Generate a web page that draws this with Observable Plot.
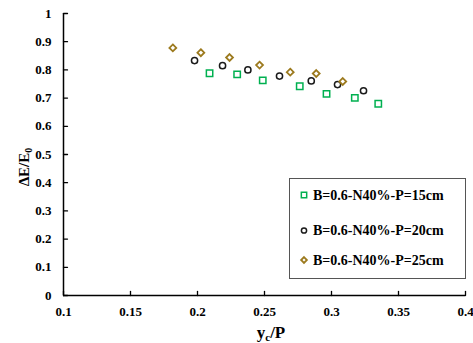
<!DOCTYPE html>
<html><head><meta charset="utf-8">
<script src="https://cdn.jsdelivr.net/npm/d3@7"></script>
<script src="https://cdn.jsdelivr.net/npm/@observablehq/plot@0.6"></script>
<style>body{margin:0;background:#fff}</style>
</head><body><div id="chart"></div>
<script>
const xTicks = [0.1, 0.15, 0.2, 0.25, 0.3, 0.35, 0.4];
const yTicks = [0, 0.1, 0.2, 0.3, 0.4, 0.5, 0.6, 0.7, 0.8, 0.9, 1];
const seriesNames = ["B=0.6-N40%-P=15cm", "B=0.6-N40%-P=20cm", "B=0.6-N40%-P=25cm"];
const p15x = [0.209, 0.2296, 0.2487, 0.2763, 0.2963, 0.3174, 0.3349];
const p15y = [0.788, 0.784, 0.763, 0.742, 0.715, 0.701, 0.680];
const p20x = [0.1978, 0.2187, 0.2376, 0.2612, 0.2849, 0.3045, 0.3239];
const p20y = [0.833, 0.815, 0.800, 0.778, 0.761, 0.748, 0.726];
const p25x = [0.1816, 0.2025, 0.2239, 0.2463, 0.2692, 0.2886, 0.3084];
const p25y = [0.878, 0.861, 0.844, 0.817, 0.792, 0.787, 0.759];

const colors = ["#00b050", "#1a1a1a", "#9c7a1e"];
const toRows = (xs, ys) => xs.map((x, i) => ({x, y: ys[i]}));
const d15 = toRows(p15x, p15y), d20 = toRows(p20x, p20y), d25 = toRows(p25x, p25y);

const tickShape = {draw(ctx, l) { ctx.moveTo(0, 0); ctx.lineTo(0, -l); }};
const tickShapeR = {draw(ctx, l) { ctx.moveTo(0, 0); ctx.lineTo(l, 0); }};

const chart = Plot.plot({
  width: 473, height: 343,
  marginLeft: 63, marginRight: 8, marginTop: 13, marginBottom: 48,
  x: {domain: [0.1, 0.4]},
  y: {domain: [0, 1]},
  style: {fontFamily: "'Liberation Serif', 'Times New Roman', serif", fontWeight: "bold", fontSize: "13px", background: "white", color: "#000"},
  marks: [
    Plot.axisX({ticks: xTicks, tickSize: 0, tickPadding: 11, label: null, tickFormat: d => String(+d.toFixed(2))}),
    Plot.axisY({ticks: yTicks, tickSize: 0, tickPadding: 12, label: null, tickFormat: d => String(+d.toFixed(1))}),
    Plot.vector(xTicks, {x: d => d, y: 0, length: 4, anchor: "start", shape: tickShape, stroke: "#000", strokeWidth: 1.3}),
    Plot.vector(yTicks, {x: 0.1, y: d => d, length: 4, anchor: "start", shape: tickShapeR, stroke: "#000", strokeWidth: 1.3}),
    Plot.ruleY([0], {stroke: "#000", strokeWidth: 1.5}),
    Plot.ruleX([0.1], {stroke: "#000", strokeWidth: 1.5}),
    Plot.dot(d15, {x: "x", y: "y", symbol: "square", r: 3.6, stroke: colors[0], strokeWidth: 1.5, fill: "none"}),
    Plot.dot(d20, {x: "x", y: "y", symbol: "circle", r: 3.1, stroke: colors[1], strokeWidth: 1.5, fill: "none"}),
    Plot.dot(d25, {x: "x", y: "y", symbol: "diamond2", r: 3.1, stroke: colors[2], strokeWidth: 1.8, fill: "none"})
  ]
});
document.getElementById("chart").appendChild(chart);

const svg = d3.select(chart);
const font = "'Liberation Serif', 'Times New Roman', serif";
// axis titles
const xl = svg.append("text").attr("x", 271).attr("y", 338).attr("text-anchor", "middle")
  .attr("font-family", font).attr("font-weight", "bold").attr("font-size", 17);
xl.append("tspan").text("y");
xl.append("tspan").attr("font-size", 11).attr("dy", 3).text("c");
xl.append("tspan").attr("dy", -3).text("/P");
const yl = svg.append("text").attr("transform", "translate(29,167) rotate(-90)").attr("text-anchor", "middle")
  .attr("font-family", font).attr("font-weight", "bold").attr("font-size", 15);
yl.append("tspan").text("ΔE/E");
yl.append("tspan").attr("font-size", 10).attr("dy", 3).text("0");

// legend
const lg = svg.append("g").attr("text-anchor", "start");
lg.append("rect").attr("x", 289.5).attr("y", 178.5).attr("width", 176).attr("height", 100)
  .attr("fill", "white").attr("stroke", "#555").attr("stroke-width", 1);
const ly = [195, 230.5, 260];
const syms = [d3.symbolSquare, d3.symbolCircle, d3.symbolDiamond2];
const rs = [3.6, 3.1, 3.1];
seriesNames.forEach((name, i) => {
  lg.append("path").attr("d", d3.symbol(syms[i], Math.PI * rs[i] * rs[i] * 0.7)())
    .attr("transform", `translate(304,${ly[i]})`).attr("fill", "none")
    .attr("stroke", colors[i]).attr("stroke-width", i === 2 ? 1.8 : 1.5);
  lg.append("text").attr("x", 313).attr("y", ly[i]).attr("dy", "0.35em").attr("text-anchor", "start")
    .attr("font-family", font).attr("font-weight", "bold").attr("font-size", 14).text(name);
});
</script></body></html>
